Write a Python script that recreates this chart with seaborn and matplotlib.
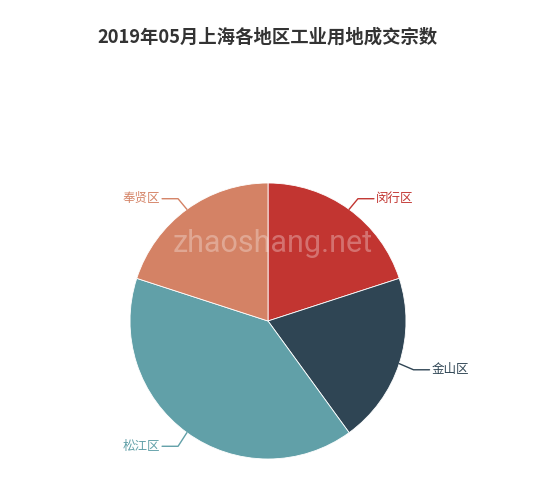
import numpy as np
import matplotlib
matplotlib.use("Agg")
import matplotlib.pyplot as plt
import seaborn as sns

# Data
districts = ["闵行区", "金山区", "松江区", "奉贤区"]
deals = [1, 1, 2, 1]
colors = ["#c23531", "#2f4554", "#61a0a8", "#d48265"]

sns.set_theme(style="white")
plt.rcParams["font.family"] = ["Noto Sans CJK SC", "DejaVu Sans"]

fig = plt.figure(figsize=(5.5, 4.9), dpi=100)
ax = fig.add_axes([0, 0, 1, 1])

cx, cy, r = 268, 490 - 321, 138
wedges, _ = ax.pie(
    deals,
    colors=colors,
    startangle=90,
    counterclock=False,
    center=(cx, cy),
    radius=r,
    wedgeprops=dict(linewidth=0.6, edgecolor="white"),
    frame=True,
)
ax.set_xlim(0, 550)
ax.set_ylim(0, 490)
ax.set_aspect("equal")
ax.axis("off")

# Labels with leader lines
for w, name, c in zip(wedges, districts, colors):
    ang = np.deg2rad((w.theta1 + w.theta2) / 2)
    x0, y0 = cx + r * np.cos(ang), cy + r * np.sin(ang)
    x1, y1 = cx + (r + 15) * np.cos(ang), cy + (r + 15) * np.sin(ang) - 1.5
    side = 1 if np.cos(ang) >= 0 else -1
    x2 = x1 + side * 16
    ax.plot([x0, x1, x2], [y0, y1, y1], color=c, lw=1)
    ax.text(x2 + side * 2, y1, name, color=c, fontsize=9,
            ha="left" if side > 0 else "right", va="center")

ax.text(cx + 5, 490 - 243, "zhaoshang.net", color="white", alpha=0.3,
        fontsize=22, ha="center", va="center", family="Roboto")

fig.text(268 / 550, 1 - 37 / 490, "2019年05月上海各地区工业用地成交宗数",
         ha="center", va="center", fontsize=13.2, fontweight="bold", color="#333333")

plt.savefig("out.png", dpi=100)
